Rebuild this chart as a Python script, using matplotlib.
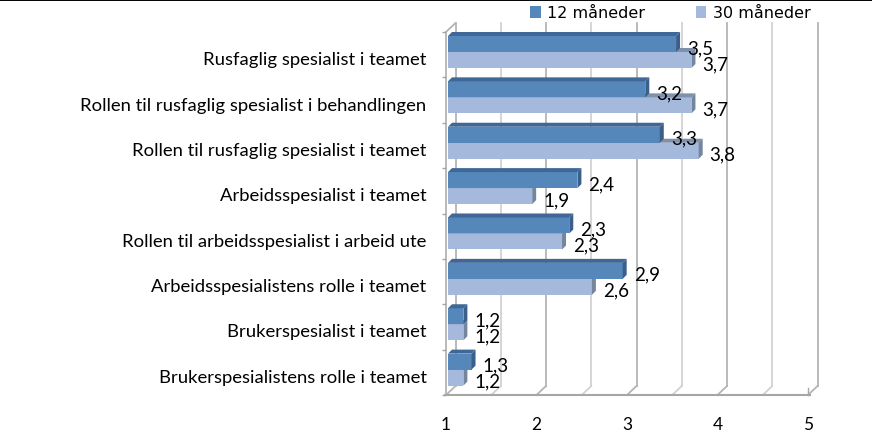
import numpy as np
import matplotlib
matplotlib.use("Agg")
import matplotlib.pyplot as plt
from matplotlib.patches import Polygon, Patch
from matplotlib.transforms import ScaledTranslation

categories = [
    "Rusfaglig spesialist i teamet",
    "Rollen til rusfaglig spesialist i behandlingen",
    "Rollen til rusfaglig spesialist i teamet",
    "Arbeidsspesialist i teamet",
    "Rollen til arbeidsspesialist i arbeid ute",
    "Arbeidsspesialistens rolle i teamet",
    "Brukerspesialist i teamet",
    "Brukerspesialistens rolle i teamet",
]
# bar lengths, the labels are these rounded to one decimal
months_12 = [3.52, 3.18, 3.34, 2.43, 2.34, 2.93, 1.17, 1.26]
months_30 = [3.69, 3.69, 3.77, 1.93, 2.26, 2.59, 1.17, 1.17]
series_names = ["12 måneder", "30 måneder"]
x_ticks = [1, 2, 3, 4, 5]

W, H = 872, 439
fig = plt.figure(figsize=(W/100, H/100), dpi=100)
ax = fig.add_axes([446/W, 1-396/H, 362/W, 363/H])
ax.set_xlim(1, 5)
ax.set_ylim(8, 0)
for s in ax.spines.values():
    s.set_visible(False)

# pixel sizes in data units
px = 1/90.5
py = 1/45.375

# ----------------------------
# 3D walls and grid
# ----------------------------
wall_dx = 9.5*px
wall_dy = 9*py
for v in np.arange(1, 5.01, 0.5):
    col = "#b4b4b4" if v == int(v) else "#d2d2d2"
    ax.plot([v+wall_dx, v+wall_dx], [8-wall_dy, -wall_dy], color=col, lw=1.3, clip_on=False, zorder=1)
    ax.plot([v, v+wall_dx], [8, 8-wall_dy], color=col, lw=1.3, clip_on=False, zorder=1)
ax.plot([1, 1+wall_dx], [0, -wall_dy], color="#b4b4b4", lw=1.3, clip_on=False, zorder=1)
ax.plot([1, 1], [0, 8], color="#b4b4b4", lw=1.3, clip_on=False, zorder=1)
ax.plot([1-1*px, 5+2*px], [8, 8], color="#a6a6a6", lw=1.5, clip_on=False, zorder=2)
ax.plot([5, 5], [8, 8-7*py], color="#a6a6a6", lw=1, clip_on=False, zorder=2)

# ----------------------------
# Bars
# ----------------------------
y = np.arange(len(categories)) + 0.5
bar_h = 16*py
shift = -2.7*py
start = 1 + 2*px
d_x = 4*px
d_y = 4*py


def bar3d(values, ypos, front, top, side, z):
    ax.barh(ypos, np.array(values)-1, height=bar_h, left=start, color=front, zorder=z, clip_on=False)
    for v, yy in zip(values, ypos):
        y0 = yy - bar_h/2
        y1 = yy + bar_h/2
        end = start + v - 1
        ax.add_patch(Polygon([(start, y0), (start+d_x, y0-d_y), (end+d_x, y0-d_y), (end, y0)],
                             closed=True, fc=top, ec="none", zorder=z, clip_on=False))
        ax.add_patch(Polygon([(end, y0), (end+d_x, y0-d_y), (end+d_x, y1-d_y), (end, y1)],
                             closed=True, fc=side, ec="none", zorder=z, clip_on=False))


bar3d(months_30, y+shift+bar_h/2, "#a5b9dc", "#7f90ab", "#74869f", 3)
bar3d(months_12, y+shift-bar_h/2, "#5587ba", "#3f6797", "#3a5f8b", 4)

# ----------------------------
# Data labels
# ----------------------------
for i in range(len(categories)):
    ax.annotate(f"{months_12[i]:.1f}".replace(".", ","),
                (start+months_12[i]-1, y[i]+shift-bar_h/2), xytext=(11*0.72, -3.5*0.72),
                textcoords="offset points", va="center", ha="left", fontsize=13.5,
                family="Lato", zorder=6)
    ax.annotate(f"{months_30[i]:.1f}".replace(".", ","),
                (start+months_30[i]-1, y[i]+shift+bar_h/2), xytext=(11*0.72, -3.5*0.72),
                textcoords="offset points", va="center", ha="left", fontsize=13.5,
                family="Lato", zorder=6)

# ----------------------------
# Axes text
# ----------------------------
ax.set_xticks(x_ticks)
ax.set_xticklabels([str(t) for t in x_ticks], fontsize=12.5, family="Lato")
ax.tick_params(axis="x", length=0, pad=15)

ax.set_yticks(y)
ax.set_yticklabels(categories, fontsize=13.3, family="Lato")
ax.tick_params(axis="y", which="major", length=0, pad=14)
for lab in ax.get_yticklabels():
    lab.set_transform(lab.get_transform() + ScaledTranslation(0, -3/100, fig.dpi_scale_trans))
ax.set_yticks(np.arange(0, 9), minor=True)
ax.tick_params(axis="y", which="minor", length=3, color="#a6a6a6", width=1)

# legend
handles = [Patch(fc="#5587ba"), Patch(fc="#a5b9dc")]
ax.legend(handles, series_names, ncol=2, frameon=False, fontsize=11.5,
          loc="center left", bbox_to_anchor=(530/W, 1-14/H), bbox_transform=fig.transFigure,
          handlelength=0.67, handleheight=0.75, handletextpad=0.4, columnspacing=3.17,
          borderpad=0, borderaxespad=0)

# top rule
fig.add_artist(plt.Line2D([0, 1], [1-0.7/H, 1-0.7/H], color="black", lw=1.4))

fig.savefig("out.png", dpi=100)
